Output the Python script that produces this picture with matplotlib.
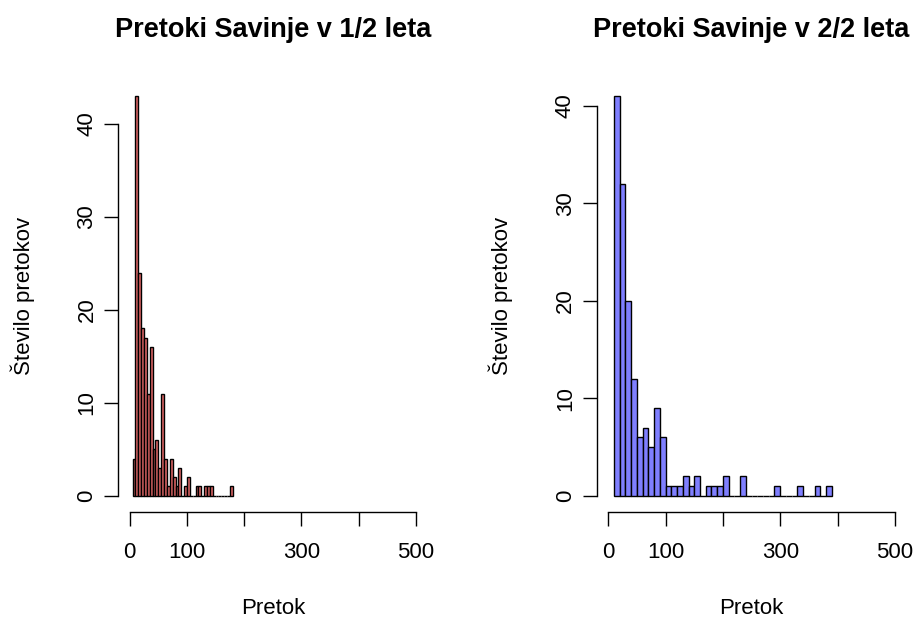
import numpy as np
import matplotlib.pyplot as plt

plt.rcParams['font.family'] = ['Liberation Sans', 'DejaVu Sans']

# Prva polovica leta: razredi po 5, od 5 do 180
bins1_start, bins1_width = 5, 5
counts1 = [4, 43, 24, 18, 17, 11, 16, 5, 6, 3, 11, 4, 1, 4, 2, 1, 3, 0,
           1, 2, 0, 0, 1, 1, 0, 1, 1, 1, 0, 0, 0, 0, 0, 0, 1]

# Druga polovica leta: razredi po 10, od 10 do 390
bins2_start, bins2_width = 10, 10
counts2 = [41, 32, 20, 12, 6, 7, 5, 9, 6, 1, 1, 1, 2, 1, 2, 0, 1, 1, 1,
           2, 0, 0, 2, 0, 0, 0, 0, 0, 1, 0, 0, 0, 1, 0, 0, 1, 0, 1]

titles = ['Pretoki Savinje v 1/2 leta', 'Pretoki Savinje v 2/2 leta']
x_ticks = [0, 100, 200, 300, 400, 500]
x_ticklabels = ['0', '100', '', '300', '', '500']
y_ticks = [0, 10, 20, 30, 40]
colors = ['#dc6464', '#7f7fff']

W, H = 917, 620
fig = plt.figure(figsize=(W / 100, H / 100), dpi=100)

# okvirja risb (v pikslih: levo, desno, zgoraj, spodaj)
frames = [(118.3, 427.3, 80.2, 511.7), (596.8, 906.3, 80.2, 511.7)]
datasets = [(bins1_start, bins1_width, counts1), (bins2_start, bins2_width, counts2)]

for frame, (start, width, counts), title, col in zip(frames, datasets, titles, colors):
    l, r, t, b = frame
    ax = fig.add_axes([l / W, 1 - b / H, (r - l) / W, (b - t) / H])
    counts = np.array(counts)
    edges = start + width * np.arange(len(counts))
    ax.bar(edges, counts, width=width, align='edge', color=col,
           edgecolor='black', linewidth=1.0)

    ymax = counts.max()
    ax.set_xlim(-20, 520)
    ax.set_ylim(-0.04 * ymax, 1.04 * ymax)

    for side in ['top', 'right']:
        ax.spines[side].set_visible(False)
    ax.spines['bottom'].set_bounds(0, 500)
    ax.spines['left'].set_bounds(0, 40)
    for side in ['bottom', 'left']:
        ax.spines[side].set_linewidth(1.0)

    ax.set_xticks(x_ticks)
    ax.set_xticklabels(x_ticklabels)
    ax.set_yticks(y_ticks)
    ax.set_yticklabels([str(v) for v in y_ticks], rotation=90, va='center')
    ax.tick_params(axis='both', length=10, width=1.0, labelsize=16,
                   colors='black')
    ax.tick_params(axis='x', pad=12)
    ax.tick_params(axis='y', pad=5)

    ax.set_title(title, fontsize=19.5, fontweight='bold', pad=31)
    ax.set_xlabel('Pretok', fontsize=16, labelpad=25)
    ax.set_ylabel('Število pretokov', fontsize=16, labelpad=30)

fig.savefig('out.png', dpi=100)
